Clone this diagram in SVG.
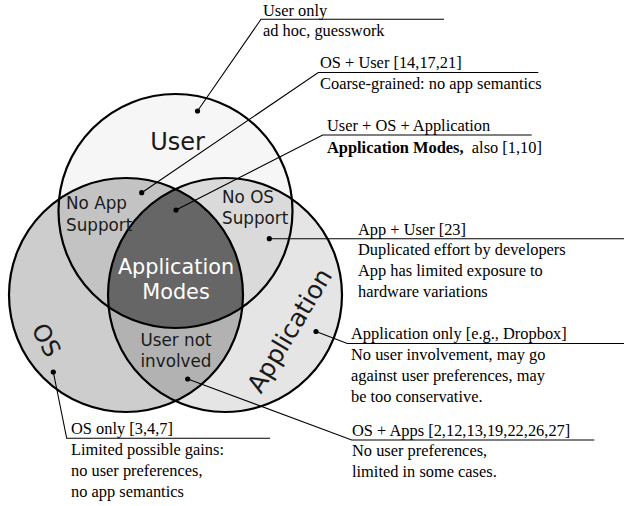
<svg xmlns="http://www.w3.org/2000/svg" width="624" height="506" viewBox="0 0 624 506">
<style>
.ring{fill:none;stroke:#000;stroke-width:2.2}
.lab{font-family:"DejaVu Sans",sans-serif;fill:#1a1a1a}
.big{font-size:24px}
.mid{font-size:16.8px}
.note{font-family:"Liberation Serif",serif;font-size:16.4px;fill:#000}
.b{font-weight:bold}
.ln{fill:none;stroke:#000;stroke-width:1.1}
.dot{fill:#000}
</style>
<defs>
<clipPath id="cU"><circle cx="175.5" cy="211" r="117"/></clipPath>
<clipPath id="cO"><circle cx="126" cy="295" r="117"/></clipPath>
</defs>
<g id="user"><circle cx="175.5" cy="211" r="117" fill="#f6f6f6"/></g>
<g id="os"><circle cx="126" cy="295" r="117" fill="#cdcdcd"/></g>
<g id="application"><circle cx="225" cy="295" r="117" fill="#e5e5e5"/></g>
<g id="no-app-support"><circle cx="126" cy="295" r="117" fill="#c3c3c3" clip-path="url(#cU)"/></g>
<g id="no-os-support"><circle cx="225" cy="295" r="117" fill="#dadada" clip-path="url(#cU)"/></g>
<g id="user-not-involved"><circle cx="225" cy="295" r="117" fill="#b2b2b2" clip-path="url(#cO)"/></g>
<g id="application-modes"><g clip-path="url(#cU)"><circle cx="225" cy="295" r="117" fill="#666666" clip-path="url(#cO)"/></g></g>
<g id="outlines">
<circle class="ring" cx="175.5" cy="211" r="117"/>
<circle class="ring" cx="126" cy="295" r="117"/>
<circle class="ring" cx="225" cy="295" r="117"/>
</g>
<g id="region-labels">
<text class="lab big" x="177.5" y="149.5" text-anchor="middle">User</text>
<text class="lab mid" x="66" y="209">No App</text>
<text class="lab mid" x="66" y="230.5">Support</text>
<text class="lab mid" x="222" y="202.5">No OS</text>
<text class="lab mid" x="222" y="224">Support</text>
<text class="lab" x="176" y="274" text-anchor="middle" font-size="20.8" style="fill:#fff">Application</text>
<text class="lab" x="176" y="299" text-anchor="middle" font-size="20.8" style="fill:#fff">Modes</text>
<text class="lab mid" x="176" y="345.5" text-anchor="middle">User not</text>
<text class="lab mid" x="176" y="366.5" text-anchor="middle">involved</text>
<text class="lab big" transform="translate(39,344) rotate(62)" text-anchor="middle">OS</text>
<text class="lab" font-size="25" transform="translate(297,335) rotate(-59)" text-anchor="middle">Application</text>
</g>
<g id="connectors">
<polyline class="ln" points="197.5,111 261,19.3 444,19.3"/>
<circle class="dot" cx="197.5" cy="111" r="2.6"/>
<polyline class="ln" points="141.7,192.7 318.3,72.5 538.3,72.5"/>
<circle class="dot" cx="141.7" cy="192.7" r="2.6"/>
<polyline class="ln" points="176,210 322.7,135 531.7,135"/>
<circle class="dot" cx="176" cy="210" r="2.6"/>
<polyline class="ln" points="269.3,238.7 624,238.7"/>
<circle class="dot" cx="269.3" cy="238.7" r="2.6"/>
<polyline class="ln" points="316,331.5 347.3,343.5 624,343.5"/>
<circle class="dot" cx="316" cy="331.5" r="2.6"/>
<polyline class="ln" points="187.7,379 351.7,440 594.3,440"/>
<circle class="dot" cx="187.7" cy="379" r="2.6"/>
<polyline class="ln" points="53.3,372 66.7,438.3 270,438.3"/>
<circle class="dot" cx="53.3" cy="372" r="2.6"/>
</g>
<g id="note-user-only">
<text class="note" x="263" y="15.5">User only</text>
<text class="note" x="263" y="36">ad hoc, guesswork</text>
</g>
<g id="note-os-user">
<text class="note" x="320" y="68">OS + User [14,17,21]</text>
<text class="note" x="320" y="88.5">Coarse-grained: no app semantics</text>
</g>
<g id="note-all">
<text class="note" x="327" y="131">User + OS + Application</text>
<text class="note" x="327" y="152.5"><tspan class="b">Application Modes,</tspan>&#160; also [1,10]</text>
</g>
<g id="note-app-user">
<text class="note" x="358" y="234.5">App + User [23]</text>
<text class="note" x="358" y="255">Duplicated effort by developers</text>
<text class="note" x="358" y="275.5">App has limited exposure to</text>
<text class="note" x="358" y="296.5">hardware variations</text>
</g>
<g id="note-app-only">
<text class="note" x="351" y="339">Application only [e.g., Dropbox]</text>
<text class="note" x="351" y="359.5">No user involvement, may go</text>
<text class="note" x="351" y="380.5">against user preferences, may</text>
<text class="note" x="351" y="401.5">be too conservative.</text>
</g>
<g id="note-os-apps">
<text class="note" x="352" y="435.5">OS + Apps [2,12,13,19,22,26,27]</text>
<text class="note" x="352" y="456">No user preferences,</text>
<text class="note" x="352" y="477">limited in some cases.</text>
</g>
<g id="note-os-only">
<text class="note" x="71" y="434">OS only [3,4,7]</text>
<text class="note" x="71" y="455">Limited possible gains:</text>
<text class="note" x="71" y="476">no user preferences,</text>
<text class="note" x="71" y="497">no app semantics</text>
</g>
</svg>
